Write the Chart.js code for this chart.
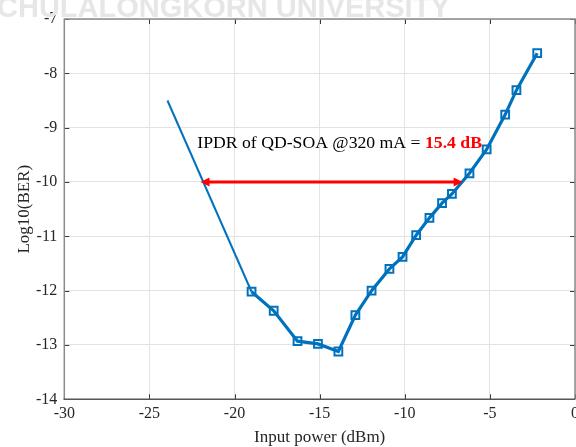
<!DOCTYPE html>
<html>
<head>
<meta charset="utf-8">
<script src="https://cdn.jsdelivr.net/npm/chart.js@4.4.1/dist/chart.umd.min.js"></script>
<style>
  html, body { margin: 0; padding: 0; background: #fff; overflow: hidden; width: 576px; height: 447px; }
  #wrap { position: relative; width: 584px; height: 447px; }
</style>
</head>
<body>
<div id="wrap"><canvas id="ber" width="584" height="447"></canvas></div>
<script>
// Measured BER curve of the QD-SOA at 320 mA
const powerDbm = [-19.0, -17.7, -16.3, -15.1, -13.9, -12.9, -11.95, -10.9, -10.13, -9.33,
                  -8.55, -7.81, -7.23, -6.2, -5.19, -4.1, -3.44, -2.22];
const log10Ber = [-12.02, -12.37, -12.93, -12.98, -13.12, -12.45, -12.0, -11.6, -11.38, -10.98,
                  -10.66, -10.39, -10.22, -9.84, -9.40, -8.76, -8.31, -7.63];

// Extrapolated low-power branch
const fitPowerDbm = [-23.94, -19.0];
const fitLog10Ber = [-8.5, -12.02];

// Axis ticks
const xTicks = [-30, -25, -20, -15, -10, -5, 0];
const yTicks = [-7, -8, -9, -10, -11, -12, -13, -14];

// Input power dynamic range marker
const ipdrDb = 15.4;
const ipdrStart = -22.0;
const ipdrLevel = -10;
const ipdrLabel = 'IPDR of QD-SOA @320 mA = ';
const ipdrValueLabel = ipdrDb.toFixed(1) + ' dB';
const ipdrLabelAt = { x: -22.19, y: -9.37 };

const watermark = 'CHULALONGKORN UNIVERSITY';

const BLUE = '#0072BD';
const SERIF = "'Liberation Serif', 'Times New Roman', serif";

const overlay = {
  id: 'overlay',
  afterDraw(chart) {
    const { ctx, chartArea: a, scales: { x, y } } = chart;
    ctx.save();

    // inward tick marks on all four sides
    ctx.strokeStyle = '#3a3a3a';
    ctx.lineWidth = 1;
    ctx.beginPath();
    xTicks.forEach(v => {
      const px = Math.round(x.getPixelForValue(v)) + 0.5;
      ctx.moveTo(px, a.bottom); ctx.lineTo(px, a.bottom - 5);
      ctx.moveTo(px, a.top); ctx.lineTo(px, a.top + 5);
    });
    yTicks.forEach(v => {
      const py = Math.round(y.getPixelForValue(v)) + 0.5;
      ctx.moveTo(a.left, py); ctx.lineTo(a.left + 5, py);
      ctx.moveTo(a.right, py); ctx.lineTo(a.right - 5, py);
    });
    ctx.stroke();

    // axes box
    ctx.lineWidth = 1.5;
    ctx.strokeStyle = '#8a8a8a';
    ctx.beginPath();
    ctx.moveTo(a.left, a.bottom); ctx.lineTo(a.left, a.top); ctx.lineTo(a.right, a.top); ctx.lineTo(a.right, a.bottom);
    ctx.stroke();
    ctx.strokeStyle = '#555555';
    ctx.beginPath();
    ctx.moveTo(a.left - 0.75, a.bottom); ctx.lineTo(a.right, a.bottom);
    ctx.stroke();

    // double-headed IPDR arrow
    const x0 = x.getPixelForValue(ipdrStart);
    const x1 = x.getPixelForValue(ipdrStart + ipdrDb);
    const ay = y.getPixelForValue(ipdrLevel);
    const head = 9, half = 4.5;
    ctx.strokeStyle = '#ff0000';
    ctx.fillStyle = '#ff0000';
    ctx.lineWidth = 3;
    ctx.beginPath();
    ctx.moveTo(x0 + head - 1, ay); ctx.lineTo(x1 - head + 1, ay);
    ctx.stroke();
    ctx.beginPath();
    ctx.moveTo(x0, ay); ctx.lineTo(x0 + head, ay - half); ctx.lineTo(x0 + head, ay + half); ctx.closePath();
    ctx.moveTo(x1, ay); ctx.lineTo(x1 - head, ay - half); ctx.lineTo(x1 - head, ay + half); ctx.closePath();
    ctx.fill();

    // annotation text
    const tx = x.getPixelForValue(ipdrLabelAt.x);
    const ty = y.getPixelForValue(ipdrLabelAt.y);
    ctx.textBaseline = 'alphabetic';
    ctx.textAlign = 'left';
    ctx.font = '17.7px ' + SERIF;
    ctx.fillStyle = '#000000';
    ctx.fillText(ipdrLabel, tx, ty);
    const w = ctx.measureText(ipdrLabel).width;
    ctx.font = 'bold 17.7px ' + SERIF;
    ctx.fillStyle = '#ff0000';
    ctx.fillText(ipdrValueLabel, tx + w, ty);

    // faint watermark across the top edge
    ctx.font = "bold 29px 'Liberation Sans', Arial, sans-serif";
    ctx.fillStyle = '#e6e6e6';
    ctx.fillText(watermark, -3, 17);

    ctx.restore();
  }
};

new Chart(document.getElementById('ber'), {
  type: 'scatter',
  data: {
    datasets: [
      {
        data: fitPowerDbm.map((v, i) => ({ x: v, y: fitLog10Ber[i] })),
        showLine: true,
        borderColor: BLUE,
        borderWidth: 2,
        pointRadius: 0,
        order: 2
      },
      {
        data: powerDbm.map((v, i) => ({ x: v, y: log10Ber[i] })),
        showLine: true,
        borderColor: BLUE,
        borderWidth: 3.2,
        pointStyle: 'rect',
        pointRadius: 5.5,
        pointBorderWidth: 2,
        pointBorderColor: BLUE,
        pointBackgroundColor: 'rgba(0,0,0,0)',
        order: 1
      }
    ]
  },
  options: {
    responsive: false,
    animation: false,
    devicePixelRatio: 1,
    layout: { padding: { top: 19, right: 5, left: 0, bottom: 0 } },
    plugins: { legend: { display: false }, tooltip: { enabled: false } },
    scales: {
      x: {
        type: 'linear',
        min: -30, max: 0,
        afterBuildTicks: s => { s.ticks = xTicks.map(v => ({ value: v })); },
        afterFit: s => { s.height = 47.7; },
        grid: { color: '#e3e3e3', lineWidth: 1, drawTicks: false },
        border: { display: false },
        ticks: { padding: 5, color: '#262626', font: { family: SERIF, size: 16 }, maxRotation: 0, autoSkip: false },
        title: { display: true, text: 'Input power (dBm)', color: '#262626',
                 font: { family: SERIF, size: 17 }, padding: { top: 0, bottom: -1 } }
      },
      y: {
        type: 'linear',
        min: -14, max: -7,
        afterBuildTicks: s => { s.ticks = yTicks.map(v => ({ value: v })); },
        afterFit: s => { s.width = 64.3; },
        grid: { color: '#e3e3e3', lineWidth: 1, drawTicks: false },
        border: { display: false },
        ticks: { padding: 7, color: '#262626', font: { family: SERIF, size: 16 }, autoSkip: false },
        title: { display: true, text: 'Log10(BER)', color: '#262626',
                 font: { family: SERIF, size: 17 }, padding: { top: 14, bottom: 0 } }
      }
    }
  },
  plugins: [overlay]
});
</script>
</body>
</html>
